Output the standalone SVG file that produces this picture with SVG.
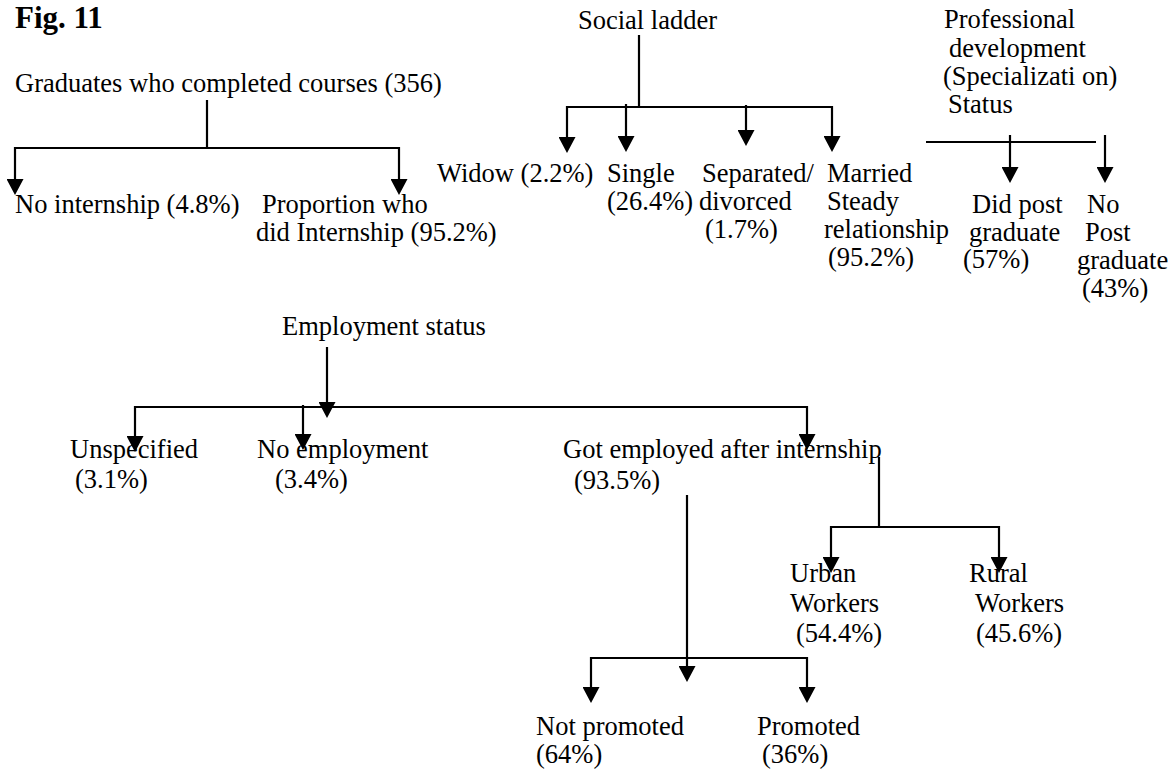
<svg xmlns="http://www.w3.org/2000/svg" width="1172" height="770" viewBox="0 0 1172 770">
<style>
text{font-family:"Liberation Serif","Times New Roman",serif;font-size:26.5px;fill:#000}
.title{font-weight:bold;font-size:31px}
.c line,.c path{stroke:#000;stroke-width:2.2;fill:none}
</style>
<defs>
<marker id="ah" markerUnits="userSpaceOnUse" markerWidth="16" markerHeight="17" viewBox="0 0 16 17" refX="5" refY="8.5" orient="auto">
<path d="M0,0 L16,8.5 L0,17 z" fill="#000"/>
</marker>
</defs>
<rect width="1172" height="770" fill="#fff"/>
<text class="title" x="15" y="28">Fig. 11</text>

<g id="graduates"><text x="15" y="92">Graduates who completed courses (356)</text></g>
<g id="no-internship"><text x="15" y="213">No internship (4.8%)</text></g>
<g id="did-internship"><text x="262" y="213">Proportion who</text><text x="256" y="241">did Internship (95.2%)</text></g>

<g id="social-ladder"><text x="578" y="29">Social ladder</text></g>
<g id="widow"><text x="437" y="182">Widow (2.2%)</text></g>
<g id="single"><text x="607" y="182">Single</text><text x="607" y="210">(26.4%)</text></g>
<g id="separated"><text x="702" y="182">Separated/</text><text x="699" y="210">divorced</text><text x="705" y="238">(1.7%)</text></g>
<g id="married"><text x="827" y="182">Married</text><text x="827" y="210">Steady</text><text x="824" y="238">relationship</text><text x="828" y="266">(95.2%)</text></g>

<g id="professional"><text x="944" y="28">Professional</text><text x="949" y="57">development</text><text x="943" y="85">(Specializati on)</text><text x="948" y="113">Status</text></g>
<g id="did-post"><text x="972" y="213">Did post</text><text x="969" y="241">graduate</text><text x="963" y="268">(57%)</text></g>
<g id="no-post"><text x="1087" y="213">No</text><text x="1085" y="241">Post</text><text x="1077" y="269">graduate</text><text x="1082" y="297">(43%)</text></g>

<g id="employment"><text x="282" y="335">Employment status</text></g>
<g id="unspecified"><text x="70" y="458">Unspecified</text><text x="75" y="488">(3.1%)</text></g>
<g id="no-employment"><text x="257" y="458">No employment</text><text x="275" y="488">(3.4%)</text></g>
<g id="got-employed"><text x="563" y="458">Got employed after internship</text><text x="574" y="489">(93.5%)</text></g>
<g id="urban"><text x="790" y="582">Urban</text><text x="790" y="612">Workers</text><text x="796" y="642">(54.4%)</text></g>
<g id="rural"><text x="969" y="582">Rural</text><text x="975" y="612">Workers</text><text x="976" y="642">(45.6%)</text></g>
<g id="not-promoted"><text x="536" y="735">Not promoted</text><text x="536" y="763">(64%)</text></g>
<g id="promoted"><text x="757" y="735">Promoted</text><text x="762" y="763">(36%)</text></g>

<g id="connectors" class="c">
<path d="M207,100 V148 M15,148 H399"/>
<line x1="15" y1="147" x2="15" y2="184" marker-end="url(#ah)"/>
<line x1="399" y1="147" x2="399" y2="184" marker-end="url(#ah)"/>

<path d="M639,35 V107 M567,107 H832"/>
<line x1="567" y1="106" x2="567" y2="142" marker-end="url(#ah)"/>
<line x1="626" y1="104" x2="626" y2="141" marker-end="url(#ah)"/>
<line x1="746" y1="105" x2="746" y2="135" marker-end="url(#ah)"/>
<line x1="832" y1="106" x2="832" y2="141" marker-end="url(#ah)"/>

<path d="M926,142 H1096"/>
<line x1="1010" y1="135" x2="1010" y2="172" marker-end="url(#ah)"/>
<line x1="1105" y1="135" x2="1105" y2="172" marker-end="url(#ah)"/>

<line x1="327" y1="347" x2="327" y2="407" marker-end="url(#ah)"/>
<path d="M135,407 H807"/>
<line x1="135" y1="406" x2="135" y2="441" marker-end="url(#ah)"/>
<line x1="303" y1="405" x2="303" y2="439" marker-end="url(#ah)"/>
<line x1="807" y1="406" x2="807" y2="439" marker-end="url(#ah)"/>

<line x1="687" y1="495" x2="687" y2="671" marker-end="url(#ah)"/>
<path d="M591,658 H807"/>
<line x1="591" y1="657" x2="591" y2="692" marker-end="url(#ah)"/>
<line x1="807" y1="657" x2="807" y2="692" marker-end="url(#ah)"/>

<path d="M879,457 V527 M831,527 H999"/>
<line x1="831" y1="526" x2="831" y2="562" marker-end="url(#ah)"/>
<line x1="999" y1="526" x2="999" y2="562" marker-end="url(#ah)"/>
</g>
</svg>
